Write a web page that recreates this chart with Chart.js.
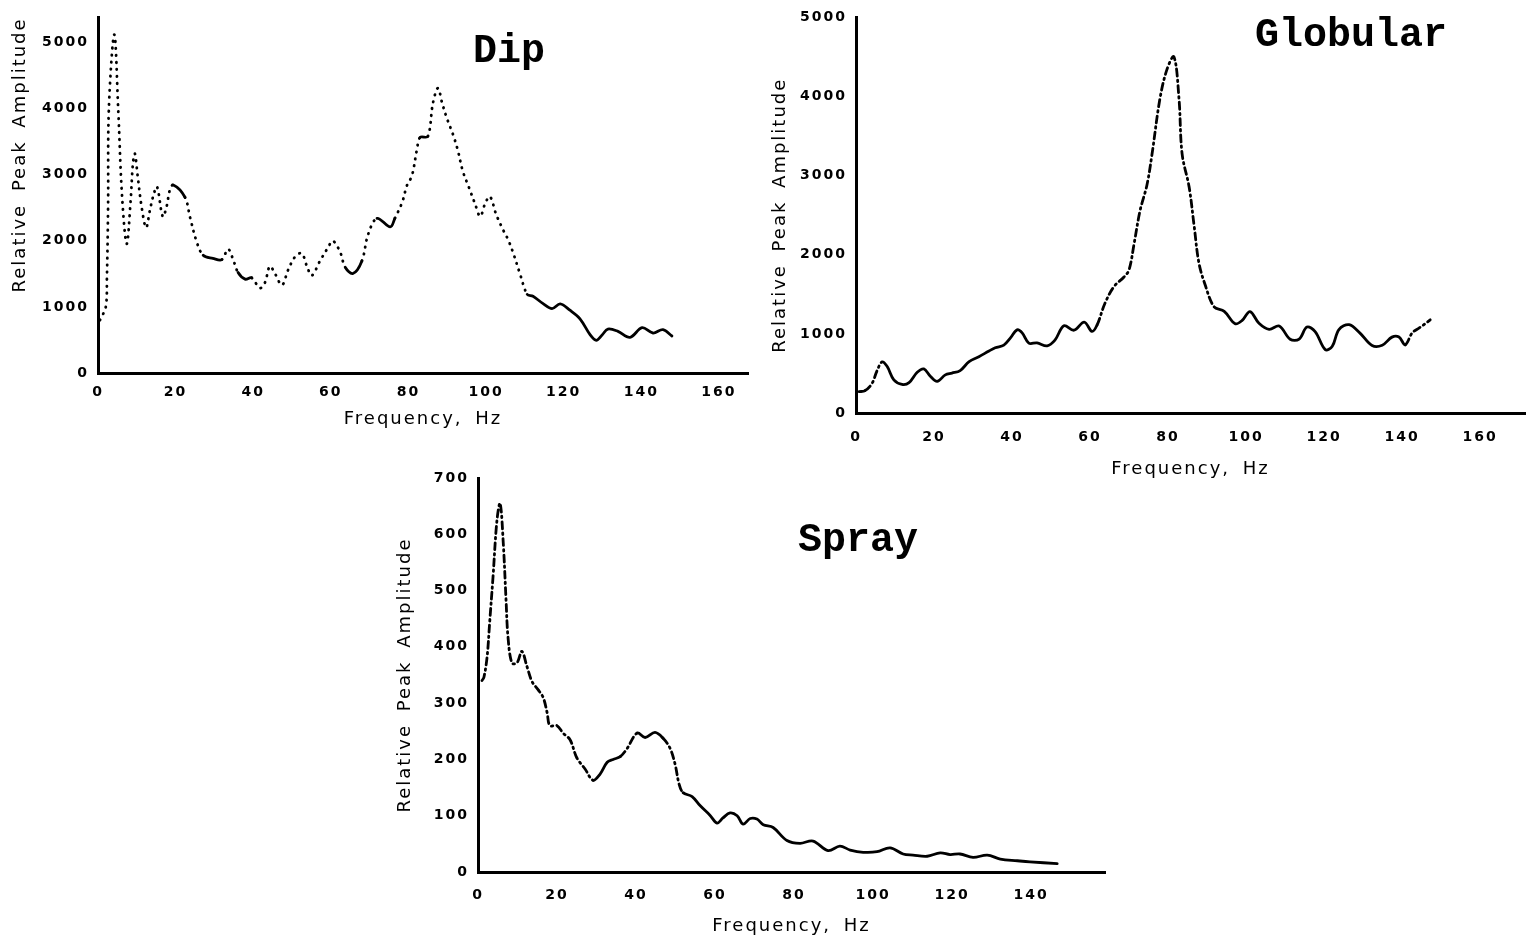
<!DOCTYPE html>
<html><head><meta charset="utf-8">
<script src="https://cdn.jsdelivr.net/npm/chart.js@4.4.0/dist/chart.umd.min.js"></script>
<style>
html,body{margin:0;padding:0;background:#fff;width:1528px;height:943px;overflow:hidden;}
.panel{position:absolute;}
</style></head><body>
<div class="panel" style="left:0;top:0;width:760px;height:430px"><canvas id="dip" width="760" height="430"></canvas></div>
<div class="panel" style="left:770px;top:0;width:758px;height:490px"><canvas id="glob" width="758" height="490"></canvas></div>
<div class="panel" style="left:380px;top:460px;width:740px;height:483px"><canvas id="spray" width="740" height="483"></canvas></div>
<script>
// ---- Dip ----
const dipFreq = [0.5,2,2.3,2.6,2.8,4.2,5.2,6.2,7.4,8.4,9,9.5,10.2,11.3,12.4,13.4,14.3,15.2,16.7,17.7,18.5,19.4,22.4,23.7,25.4,27.1,29.6,31.9,33.5,34.8,36.1,37.9,39.6,41.7,43,44.3,45.6,47.4,49,50.8,52.5,53.9,55.1,57.2,59.3,60.5,62.4,63.7,65.7,68,69.6,71.9,75.3,76.5,78.4,79.6,80.9,82.2,83,85,86.3,87.6,88.7,89.9,91.5,92.7,94,95.6,97.1,98.5,99.8,101,102.6,104.4,105.7,107,108.8,110.6,112.1,114.7,117,119.1,121.6,124.2,126.8,128.4,129.9,131.4,134,137.1,140.2,143,145.6,147.9];
const dipAmp = [800,1000,1450,2530,4000,5120,4000,2675,1955,2600,3170,3320,2990,2490,2200,2470,2690,2820,2365,2525,2765,2845,2660,2360,1990,1780,1735,1715,1875,1720,1520,1420,1440,1285,1365,1615,1505,1330,1560,1760,1810,1605,1475,1695,1900,2000,1830,1600,1505,1695,2095,2340,2210,2340,2585,2835,2985,3385,3565,3580,4080,4310,4080,3855,3605,3375,3055,2805,2570,2370,2570,2670,2400,2165,2015,1815,1490,1190,1160,1050,975,1045,950,820,580,495,575,665,630,540,685,605,655,560];
const dipXTicks = [0,20,40,60,80,100,120,140,160];
const dipYTicks = [0,1000,2000,3000,4000,5000];

// ---- Globular ----
const globFreq = [0.8,2.3,4.1,5.4,6.7,8,9.7,11.8,13.6,15.7,17.4,19,20.8,22.9,24.6,26.7,29,31.5,34.1,35.7,37.9,39.6,41.3,42.6,44.3,46.4,49,51,53.3,55.9,58.5,60.5,61.8,63.8,66.1,68.7,70,71.3,72.8,74.6,75.9,77.9,79.7,81.5,82.8,83.6,85.4,86.7,87.9,89.5,91.8,94.4,97.2,99,101,103.3,105.9,108.5,111.3,113.6,115.6,117.7,120.3,122.1,123.8,126.4,129.2,132.3,134.9,137.4,139.2,140.8,142.6,144.4,145.6,147.2];
const globAmp = [270,282,373,535,646,587,419,361,383,515,557,468,400,482,504,536,649,711,784,825,858,949,1051,1012,884,886,849,921,1103,1046,1149,1031,1112,1384,1596,1719,1810,2142,2554,2885,3276,3968,4340,4502,3973,3274,2856,2357,1898,1620,1342,1285,1128,1170,1282,1134,1057,1099,932,934,1086,1029,801,843,1055,1117,1010,853,856,959,960,862,1014,1076,1117,1178];
const globXTicks = [0,20,40,60,80,100,120,140,160];
const globYTicks = [0,1000,2000,3000,4000,5000];

// ---- Spray ----
const sprayFreq = [1,1.5,2.3,3,3.8,4.8,5.6,6.4,7.1,7.6,8.6,9.9,11.1,12.4,13.7,15.2,16.5,17.5,18.2,20,21.5,23.3,25,27.1,29.1,30.9,32.7,34.2,36,37.7,40.3,42.3,44.8,46.8,48.6,49.9,50.9,51.9,54.2,56.2,58.7,60.5,62,63.8,65.6,67.1,68.9,70.6,72.2,74.7,78.2,81.5,84.8,88.6,91.6,94.2,97.5,101,104.3,107.6,110.1,113.7,117,119.5,122,125.3,128.9,132.2,136.5,139.7,146.6];
const sprayAmp = [340,346,382,448,524,625,655,584,483,417,371,372,392,365,338,324,310,283,260,260,247,235,203,183,163,174,195,200,205,219,247,239,248,238,220,191,156,141,134,118,101,87,96,105,100,85,95,94,84,79,56,51,55,38,46,39,35,36,43,32,30,28,34,31,32,26,30,23,20,18,15];
const sprayXTicks = [0,20,40,60,80,100,120,140];
const sprayYTicks = [0,100,200,300,400,500,600,700];

const DOT = [0.5, 6.5];
const DASHDOT = [7, 4, 1.5, 4];

function inRanges(x, ranges){ return ranges.some(r => x >= r[0] && x < r[1]); }

function makeChart(id, freq, amp, xTicks, yTicks, cfg){
  const ctx = document.getElementById(id);
  const tickFont = {family:'DejaVu Sans', weight:'bold', size:14};
  const titleFont = {family:'DejaVu Sans', size:18};
  const panelTitle = {
    id:'panelTitle',
    beforeDraw(chart){ chart.ctx.letterSpacing = '2px'; chart.ctx.wordSpacing = '5px'; },
    afterDraw(chart){
      const c = chart.ctx;
      c.save();
      c.letterSpacing = '0px'; c.wordSpacing = '0px';
      c.font = 'bold 40px "Liberation Mono"';
      c.fillStyle = '#000';
      c.textAlign = 'center'; c.textBaseline = 'middle';
      c.fillText(cfg.title, cfg.titleX, cfg.titleY);
      c.restore();
      c.letterSpacing = '0px'; c.wordSpacing = '0px';
    }
  };
  return new Chart(ctx, {
    type:'line',
    data:{ datasets:[{
      data: freq.map((f,i)=>({x:f, y:amp[i]})),
      borderColor:'#000', borderWidth:2.8, pointRadius:0, tension:0.35,
      borderCapStyle:'round', borderJoinStyle:'round', fill:false,
      segment:{ borderDash: s => cfg.dash((s.p0.parsed.x + s.p1.parsed.x)/2) }
    }]},
    options:{
      responsive:false, animation:false, events:[],
      layout:{padding:cfg.padding},
      plugins:{legend:{display:false}, tooltip:{enabled:false}},
      scales:{
        x:{type:'linear', min:0, max:cfg.xMax,
          afterBuildTicks: s => { s.ticks = xTicks.map(v=>({value:v})); },
          afterFit: s => { s.height = cfg.xH; },
          ticks:{color:'#000', font:tickFont, padding:cfg.xTickPad, maxRotation:0, autoSkip:false, callback: v => String(v)},
          grid:{display:false, drawTicks:false},
          border:{display:true, color:'#000', width:3},
          title:{display:true, text:'Frequency, Hz', color:'#000', font:titleFont, padding:{top:cfg.xTitlePad, bottom:0}}
        },
        y:{type:'linear', min:0, max:cfg.yMax,
          afterBuildTicks: s => { s.ticks = yTicks.map(v=>({value:v})); },
          afterFit: s => { s.width = cfg.yW; },
          ticks:{color:'#000', font:tickFont, padding:9, autoSkip:false, callback: v => String(v)},
          grid:{display:false, drawTicks:false},
          border:{display:true, color:'#000', width:3},
          title:{display:true, text:'Relative Peak Amplitude', color:'#000', font:titleFont, align:cfg.yAlign, padding:{top:0,bottom:0}}
        }
      }
    },
    plugins:[panelTitle]
  });
}

const dipSolid = [[19,23],[28,32],[37,40],[63.5,68],[72,76],[83,85],[110,200]];
makeChart('dip', dipFreq, dipAmp, dipXTicks, dipYTicks, {
  title:'Dip', titleX:509, titleY:52,
  padding:{left:10, right:12, top:15, bottom:0},
  yW:88, xH:57, xMax:167.5, yMax:5380, xTickPad:11, xTitlePad:3, yAlign:'end',
  dash: x => inRanges(x, dipSolid) ? [] : DOT
});

const globDashed = [[2.3,8],[61.8,92],[140.8,200]];
makeChart('glob', globFreq, globAmp, globXTicks, globYTicks, {
  title:'Globular', titleX:581, titleY:36,
  padding:{left:0, right:3, top:10, bottom:10},
  yW:86, xH:67, xMax:171.5, yMax:5000, xTickPad:16, xTitlePad:0, yAlign:'center',
  dash: x => inRanges(x, globDashed) ? DASHDOT : []
});

const spraySolid = [[29,36],[40,47.5],[52,200]];
makeChart('spray', sprayFreq, sprayAmp, sprayXTicks, sprayYTicks, {
  title:'Spray', titleX:478, titleY:81,
  padding:{left:15, right:15, top:18, bottom:6},
  yW:83, xH:65, xMax:158.7, yMax:700, xTickPad:15, xTitlePad:2, yAlign:'center',
  dash: x => inRanges(x, spraySolid) ? [] : DASHDOT
});
</script>
</body></html>
